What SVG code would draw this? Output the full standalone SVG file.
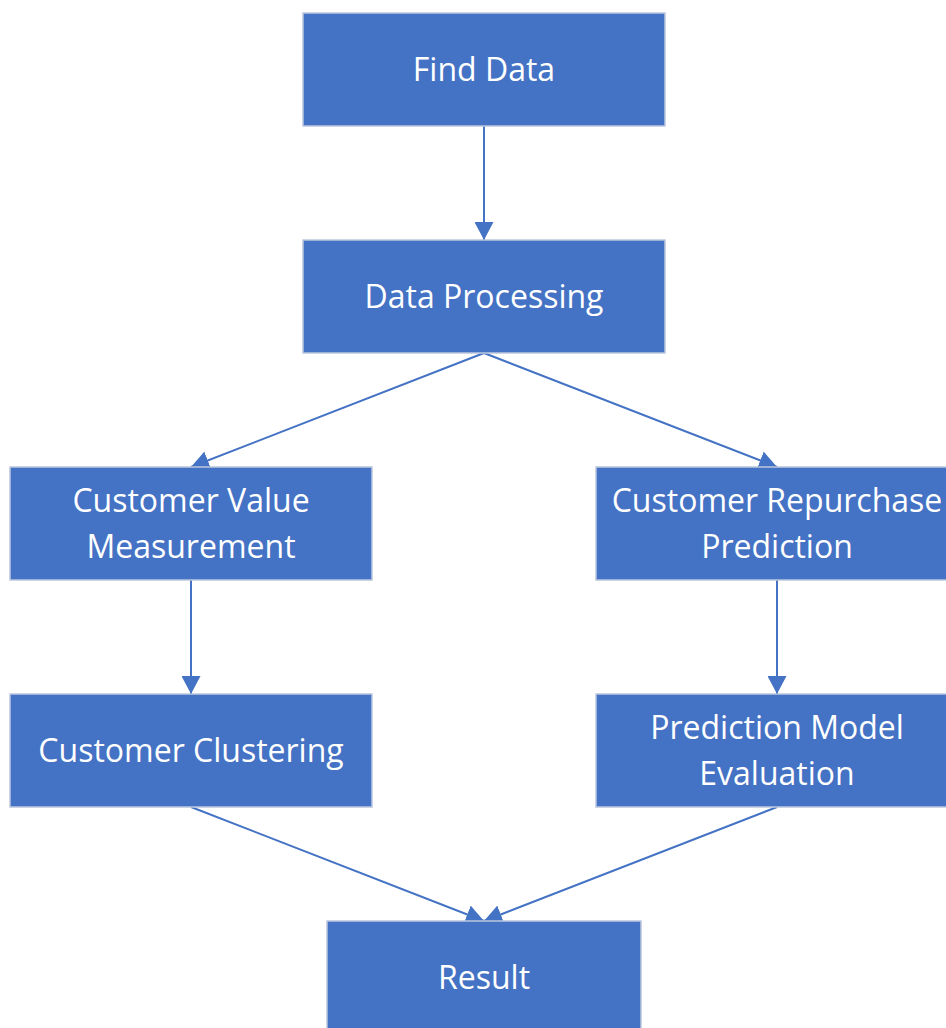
<svg xmlns="http://www.w3.org/2000/svg" width="946" height="1028" viewBox="0 0 946 1028">
<style>
.box{fill:#4472C4;stroke:#BCC7DD;stroke-width:1.5}
.lbl{font-family:"Open Sans","Liberation Sans",sans-serif;font-size:32px;fill:#FFFFFF;text-anchor:middle}
.conn{stroke:#4472C4;stroke-width:2;fill:none;marker-end:url(#ah)}
</style>
<defs>
<marker id="ah" viewBox="0 0 18 19" refX="18" refY="9.5" markerWidth="18" markerHeight="19" markerUnits="userSpaceOnUse" orient="auto">
<path d="M0,0 L18,9.5 L0,19 Z" fill="#4472C4"/>
</marker>
</defs>
<rect width="946" height="1028" fill="#FFFFFF"/>
<g id="connectors">
<line class="conn" x1="484" y1="126" x2="484" y2="240"/>
<line class="conn" x1="484" y1="353" x2="191" y2="467"/>
<line class="conn" x1="484" y1="353" x2="777" y2="467"/>
<line class="conn" x1="191" y1="580" x2="191" y2="694"/>
<line class="conn" x1="777" y1="580" x2="777" y2="694"/>
<line class="conn" x1="191" y1="807" x2="484" y2="921"/>
<line class="conn" x1="777" y1="807" x2="484" y2="921"/>
</g>
<g id="find-data">
<rect class="box" x="303" y="13" width="362" height="113"/>
<text class="lbl" x="484" y="81">Find Data</text>
</g>
<g id="data-processing">
<rect class="box" x="303" y="240" width="362" height="113"/>
<text class="lbl" x="484" y="308">Data Processing</text>
</g>
<g id="customer-value-measurement">
<rect class="box" x="10" y="467" width="362" height="113"/>
<text class="lbl" x="191" y="512">Customer Value</text>
<text class="lbl" x="191" y="558">Measurement</text>
</g>
<g id="customer-repurchase-prediction">
<rect class="box" x="596" y="467" width="362" height="113"/>
<text class="lbl" x="777" y="512">Customer Repurchase</text>
<text class="lbl" x="777" y="558">Prediction</text>
</g>
<g id="customer-clustering">
<rect class="box" x="10" y="694" width="362" height="113"/>
<text class="lbl" x="191" y="762">Customer Clustering</text>
</g>
<g id="prediction-model-evaluation">
<rect class="box" x="596" y="694" width="362" height="113"/>
<text class="lbl" x="777" y="739">Prediction Model</text>
<text class="lbl" x="777" y="785">Evaluation</text>
</g>
<g id="result">
<rect class="box" x="327" y="921" width="314" height="113"/>
<text class="lbl" x="484" y="989">Result</text>
</g>
</svg>
